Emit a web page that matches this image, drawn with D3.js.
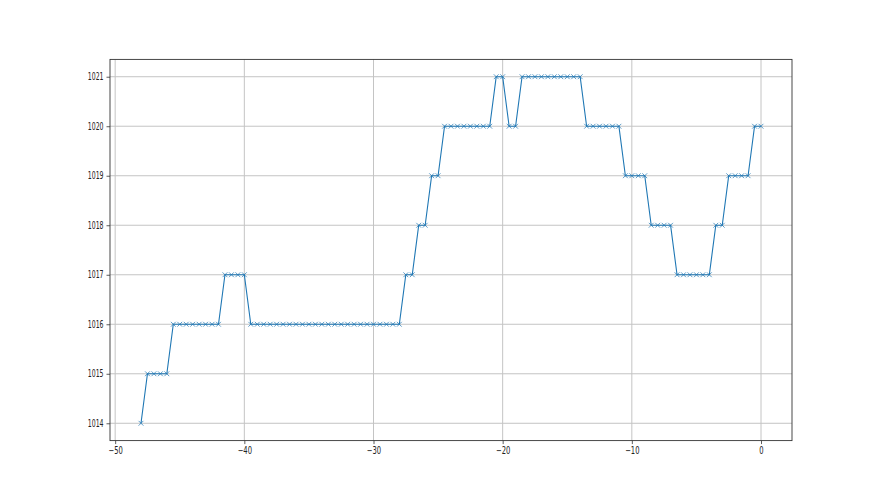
<!DOCTYPE html>
<html>
<head>
<meta charset="utf-8">
<script src="https://cdn.jsdelivr.net/npm/d3@7"></script>
<style>
  html, body { margin: 0; padding: 0; background: #fff; }
  svg { display: block; }
</style>
</head>
<body>
<svg id="chart" width="880" height="495"></svg>
<script>
// Data: x positions (hours) and pressure values
const xValues = [
  -48,
  -47.5, -47, -46.5, -46,
  -45.5, -45, -44.5, -44, -43.5, -43, -42.5, -42,
  -41.5, -41, -40.5, -40,
  -39.5, -39, -38.5, -38, -37.5, -37, -36.5, -36, -35.5, -35, -34.5, -34,
  -33.5, -33, -32.5, -32, -31.5, -31, -30.5, -30, -29.5, -29, -28.5, -28,
  -27.5, -27,
  -26.5, -26,
  -25.5, -25,
  -24.5, -24, -23.5, -23, -22.5, -22, -21.5, -21,
  -20.5, -20,
  -19.5, -19,
  -18.5, -18, -17.5, -17, -16.5, -16, -15.5, -15, -14.5, -14,
  -13.5, -13, -12.5, -12, -11.5, -11,
  -10.5, -10, -9.5, -9,
  -8.5, -8, -7.5, -7,
  -6.5, -6, -5.5, -5, -4.5, -4,
  -3.5, -3,
  -2.5, -2, -1.5, -1,
  -0.5, 0
];
const yValues = [
  1014,
  1015, 1015, 1015, 1015,
  1016, 1016, 1016, 1016, 1016, 1016, 1016, 1016,
  1017, 1017, 1017, 1017,
  1016, 1016, 1016, 1016, 1016, 1016, 1016, 1016, 1016, 1016, 1016, 1016,
  1016, 1016, 1016, 1016, 1016, 1016, 1016, 1016, 1016, 1016, 1016, 1016,
  1017, 1017,
  1018, 1018,
  1019, 1019,
  1020, 1020, 1020, 1020, 1020, 1020, 1020, 1020,
  1021, 1021,
  1020, 1020,
  1021, 1021, 1021, 1021, 1021, 1021, 1021, 1021, 1021, 1021,
  1020, 1020, 1020, 1020, 1020, 1020,
  1019, 1019, 1019, 1019,
  1018, 1018, 1018, 1018,
  1017, 1017, 1017, 1017, 1017, 1017,
  1018, 1018,
  1019, 1019, 1019, 1019,
  1020, 1020
];
const xTicks = [-50, -40, -30, -20, -10, 0];
const yTicks = [1014, 1015, 1016, 1017, 1018, 1019, 1020, 1021];

(function () {
const data = xValues.map((x, i) => ({ x, y: yValues[i] }));

const svg = d3.select("#chart");
const pLeft = 110, pRight = 792, pTop = 59.4, pBottom = 440.6;

const xMin = d3.min(xValues), xMax = d3.max(xValues);
const yMin = d3.min(yValues), yMax = d3.max(yValues);
const xPad = (xMax - xMin) * 0.05, yPad = (yMax - yMin) * 0.05;

const x = d3.scaleLinear().domain([xMin - xPad, xMax + xPad]).range([pLeft, pRight]);
const y = d3.scaleLinear().domain([yMin - yPad, yMax + yPad]).range([pBottom, pTop]);

// grid
const grid = svg.append("g");
grid.selectAll("line.vx").data(xTicks).join("line")
  .attr("class", "vx")
  .attr("x1", d => x(d)).attr("x2", d => x(d))
  .attr("y1", pTop).attr("y2", pBottom)
  .attr("stroke", "#c4c4c4").attr("stroke-width", 1);
grid.selectAll("line.hy").data(yTicks).join("line")
  .attr("class", "hy")
  .attr("y1", d => y(d)).attr("y2", d => y(d))
  .attr("x1", pLeft).attr("x2", pRight)
  .attr("stroke", "#c4c4c4").attr("stroke-width", 1);

// axes
const fmt = d => String(d).replace("-", "\u2212");
const xAxis = svg.append("g").attr("transform", `translate(0,${pBottom})`)
  .call(d3.axisBottom(x).tickValues(xTicks).tickSize(3.5).tickPadding(3).tickFormat(fmt));
const yAxis = svg.append("g").attr("transform", `translate(${pLeft},0)`)
  .call(d3.axisLeft(y).tickValues(yTicks).tickSize(3.5).tickPadding(3).tickFormat(d3.format("d")));

[xAxis, yAxis].forEach(g => {
  g.select(".domain").remove();
  g.selectAll(".tick line").attr("stroke", "#333").attr("stroke-width", 0.8);
  g.selectAll(".tick text")
    .attr("fill", "#222")
    .style("font-family", "DejaVu Sans")
    .style("font-size", "10px");
});
// horizontally condensed labels
yAxis.selectAll(".tick text").each(function () {
  const t = d3.select(this);
  const xx = +t.attr("x");
  t.attr("x", null).attr("transform", `translate(${xx},0) scale(0.62,1)`);
});
xAxis.selectAll(".tick text").attr("transform", "scale(0.68,1)");

// frame
svg.append("rect")
  .attr("x", pLeft).attr("y", pTop)
  .attr("width", pRight - pLeft).attr("height", pBottom - pTop)
  .attr("fill", "none").attr("stroke", "#333").attr("stroke-width", 0.9);

// line
const line = d3.line().x(d => x(d.x)).y(d => y(d.y));
svg.append("path").datum(data)
  .attr("d", line)
  .attr("fill", "none")
  .attr("stroke", "#1f77b4")
  .attr("stroke-width", 1.1);

// markers (x)
const m = 2.4;
svg.append("g").selectAll("path").data(data).join("path")
  .attr("d", d => {
    const cx = x(d.x), cy = y(d.y);
    return `M${cx - m},${cy - m}L${cx + m},${cy + m}M${cx - m},${cy + m}L${cx + m},${cy - m}`;
  })
  .attr("stroke", "#1f77b4")
  .attr("stroke-opacity", 0.8)
  .attr("stroke-width", 0.9)
  .attr("fill", "none");
})();
</script>
</body>
</html>
